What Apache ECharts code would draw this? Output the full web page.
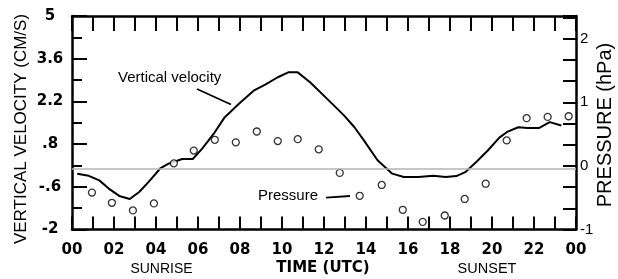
<html>

<head>
    <title>Vertical velocity and pressure</title>
    <script src="https://cdn.jsdelivr.net/npm/echarts@6.0.0/dist/echarts.min.js"></script>
</head>

<body style="margin:0">
    <div id="main" style="width:618px;height:279px;"></div>
    <script type="text/javascript">
        // vertical velocity (cm/s) against time (UTC hours)
        var velTime = [0.25, 0.8, 1.3, 1.75, 2.25, 2.75, 3.2, 3.65, 4.2, 4.6, 5.25, 5.75, 6.2, 6.75, 7.25, 7.95,
            8.65, 9.2, 9.8, 10.3, 10.75, 11.35, 12.15, 12.95, 13.45, 13.9, 14.55, 15.25, 15.8, 16.5, 17.2, 17.8,
            18.3, 18.75, 19.25, 19.8, 20.35, 20.75, 21.25, 21.7, 22.25, 22.75, 23.3];
        var velValue = [-0.17, -0.24, -0.39, -0.66, -0.9, -1.0, -0.77, -0.44, 0, 0.16, 0.31, 0.31, 0.65, 1.14, 1.66, 2.12,
            2.55, 2.75, 2.99, 3.15, 3.15, 2.82, 2.28, 1.74, 1.35, 0.92, 0.27, -0.17, -0.28, -0.28, -0.24, -0.28,
            -0.25, -0.11, 0.21, 0.59, 1.01, 1.21, 1.35, 1.33, 1.33, 1.52, 1.41];

        // pressure (hPa), hourly readings
        var presTime = [0.95, 1.9, 2.9, 3.9, 4.85, 5.8, 6.8, 7.8, 8.8, 9.8, 10.75, 11.75, 12.75, 13.7, 14.75, 15.75,
            16.7, 17.75, 18.7, 19.7, 20.7, 21.65, 22.65, 23.65];
        var presValue = [-0.42, -0.58, -0.70, -0.59, 0.04, 0.24, 0.41, 0.37, 0.54, 0.39, 0.42, 0.26, -0.11, -0.47,
            -0.30, -0.69, -0.88, -0.78, -0.52, -0.28, 0.40, 0.75, 0.77, 0.78];

        // left axis runs -2..5 with labels every 1.4 from -2, so it is drawn offset by this much
        var velOffset = 2;

        var velData = [];
        for (var i = 0; i < velTime.length; i++) {
            velData.push([velTime[i], velValue[i] + velOffset]);
        }
        var presData = [];
        for (var i = 0; i < presTime.length; i++) {
            presData.push([presTime[i], presValue[i]]);
        }

        var boldLabel = { fontFamily: 'DejaVu Sans', fontWeight: 'bold', fontSize: 15, color: '#000' };
        var blackLine = { color: '#000', width: 2.5 };

        var myChart = echarts.init(document.getElementById('main'));
        var option = {
            animation: false,
            grid: { left: 72, right: 42, top: 15, bottom: 49.5 },
            xAxis: [
                {
                    type: 'value', min: 0, max: 24, interval: 1,
                    axisLine: { onZero: false, lineStyle: blackLine },
                    axisTick: { inside: true, length: 13, lineStyle: { color: '#000', width: 2 } },
                    axisLabel: Object.assign({
                        margin: 5,
                        formatter: function (v) {
                            if (v % 2 !== 0) return '';
                            return v === 24 ? '00' : (v < 10 ? '0' + v : '' + v);
                        }
                    }, boldLabel),
                    splitLine: { show: false }
                },
                {
                    type: 'value', position: 'top', min: 0, max: 24, interval: 1,
                    axisLine: { onZero: false, lineStyle: blackLine },
                    axisTick: { inside: true, length: 15, lineStyle: { color: '#000', width: 2 } },
                    axisLabel: { show: false },
                    splitLine: { show: false }
                }
            ],
            yAxis: [
                {
                    type: 'value', min: 0, max: 7, interval: 1.4,
                    axisLine: { show: true, onZero: false, lineStyle: blackLine },
                    axisTick: { show: true, inside: true, length: 15, lineStyle: { color: '#000', width: 2 } },
                    minorTick: { show: true, splitNumber: 2, length: 10, lineStyle: { color: '#000', width: 2 } },
                    axisLabel: Object.assign({
                        margin: 22, align: 'center', padding: [4, 0, 0, 0],
                        formatter: function (v) {
                            var s = '' + Math.round((v - velOffset) * 10) / 10;
                            return s.replace(/^(-?)0\./, '$1.');
                        }
                    }, boldLabel),
                    splitLine: { show: false }
                },
                {
                    type: 'value', position: 'right', min: -1, max: 2.357, interval: 1 / 3,
                    axisLine: { show: true, onZero: false, lineStyle: blackLine },
                    axisTick: { show: true, inside: true, length: 13, lineStyle: { color: '#000', width: 2 } },
                    axisLabel: {
                        margin: 4, fontFamily: 'Liberation Sans', fontSize: 15, color: '#000',
                        formatter: function (v) {
                            var r = Math.round(v);
                            return Math.abs(v - r) < 1e-6 ? '' + r : '';
                        }
                    },
                    splitLine: { show: false }
                }
            ],
            series: [
                {
                    name: 'Vertical velocity',
                    type: 'line',
                    data: velData,
                    showSymbol: false,
                    lineStyle: { color: '#000', width: 2 },
                    z: 3,
                    markLine: {
                        silent: true,
                        symbol: 'none',
                        label: { show: false },
                        lineStyle: { color: '#b4b4b4', width: 1.5, type: 'solid' },
                        data: [{ yAxis: velOffset }]
                    }
                },
                {
                    name: 'Pressure',
                    type: 'scatter',
                    yAxisIndex: 1,
                    data: presData,
                    symbol: 'circle',
                    symbolSize: 7,
                    itemStyle: { color: '#fff', borderColor: '#000', borderWidth: 1.3 },
                    z: 4
                }
            ],
            graphic: [
                {
                    type: 'text', x: 21, y: 129, rotation: Math.PI / 2,
                    style: { text: 'VERTICAL VELOCITY (CM/S)', font: '17px "Liberation Sans"', fill: '#000', textAlign: 'center', textVerticalAlign: 'middle' }
                },
                {
                    type: 'text', x: 605, y: 125, rotation: Math.PI / 2,
                    style: { text: 'PRESSURE (hPa)', font: '20px "Liberation Sans"', fill: '#000', textAlign: 'center', textVerticalAlign: 'middle' }
                },
                {
                    type: 'text', x: 323, y: 268.5,
                    style: { text: 'TIME (UTC)', font: 'bold 15px "DejaVu Sans"', fill: '#000', textAlign: 'center', textVerticalAlign: 'middle' }
                },
                {
                    type: 'text', x: 161.5, y: 269,
                    style: { text: 'SUNRISE', font: '14px "Liberation Sans"', fill: '#000', textAlign: 'center', textVerticalAlign: 'middle' }
                },
                {
                    type: 'text', x: 487, y: 269,
                    style: { text: 'SUNSET', font: '14.5px "Liberation Sans"', fill: '#000', textAlign: 'center', textVerticalAlign: 'middle' }
                },
                {
                    type: 'text', x: 118, y: 78,
                    style: { text: 'Vertical velocity', font: '15px "Liberation Sans"', fill: '#000', textAlign: 'left', textVerticalAlign: 'middle' }
                },
                {
                    type: 'line', shape: { x1: 197, y1: 89, x2: 231, y2: 104.5 },
                    style: { stroke: '#000', lineWidth: 1.8 }
                },
                {
                    type: 'text', x: 258, y: 196,
                    style: { text: 'Pressure', font: '15px "Liberation Sans"', fill: '#000', textAlign: 'left', textVerticalAlign: 'middle' }
                },
                {
                    type: 'line', shape: { x1: 326, y1: 197.7, x2: 350, y2: 196 },
                    style: { stroke: '#000', lineWidth: 1.8 }
                }
            ]
        };
        option && myChart.setOption(option);
    </script>
</body>

</html>
